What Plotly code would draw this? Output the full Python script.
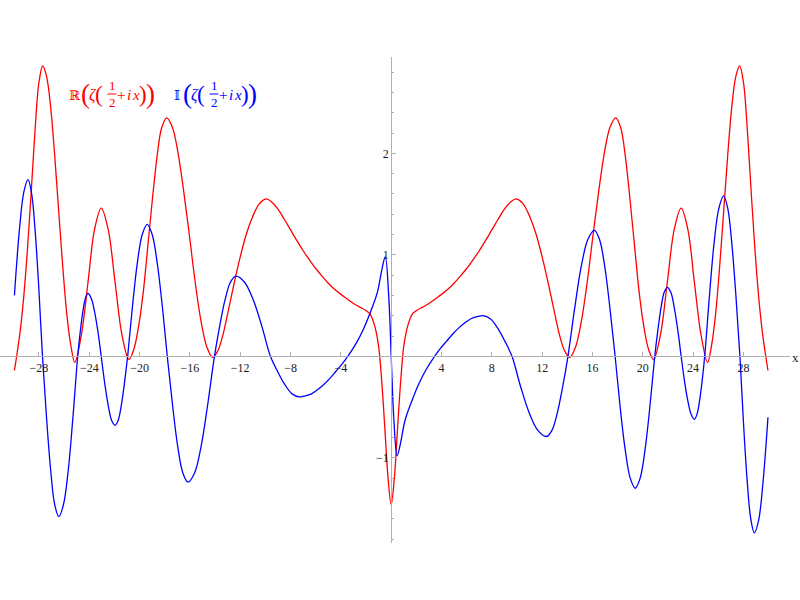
import plotly.graph_objects as go

# ---- data ----
x_re = [-29.95,-29.75,-29.5,-29.2,-28.9,-28.6,-28.3,-28.0,-27.7,-27.4,
        -27.06,-26.75,-26.43,-26.1,-25.79,-25.47,-25.15,-24.63,-24.1,-23.58,
        -23.05,-22.5,-21.95,-21.4,-20.85,-20.48,-20.1,-19.72,-19.35,-18.98,
        -18.6,-18.25,-17.85,-17.4,-16.94,-16.49,-16.03,-15.57,-15.11,-14.65,
        -14.2,-13.8,-13.4,-13.0,-12.5,-12.0,-11.5,-11.0,-10.5,-9.95,
        -9.5,-9.0,-8.5,-8.0,-7.5,-7.0,-6.5,-6.0,-5.5,-5.0,
        -4.5,-4.0,-3.5,-3.0,-2.5,-2.0,-1.7,-1.5,-1.25,-1.0,
        -0.75,-0.5,-0.25,
        0.0,
        0.25,0.5,0.75,1.0,1.25,1.5,1.7,2.0,2.5,3.0,
        3.5,4.0,4.5,5.0,5.5,6.0,6.5,7.0,7.5,8.0,
        8.5,9.0,9.5,9.95,10.5,11.0,11.5,12.0,12.5,13.0,
        13.4,13.8,14.2,14.65,15.11,15.57,16.03,16.49,16.94,17.4,
        17.85,18.25,18.6,18.98,19.35,19.72,20.1,20.48,20.85,21.4,
        21.95,22.5,23.05,23.58,24.1,24.63,25.15,25.47,25.79,26.1,
        26.43,26.75,27.06,27.4,27.7,28.0,28.3,28.6,28.9,29.2,
        29.5,29.75,29.95]
re_vals = [-0.14,0.02,0.24,0.6,1.08,1.65,2.25,2.7,2.86,2.76,
           2.44,1.98,1.43,0.87,0.42,0.11,-0.06,0.21,0.73,1.25,
           1.46,1.25,0.73,0.21,-0.03,0.06,0.28,0.62,1.08,1.55,
           1.98,2.25,2.35,2.26,2.0,1.62,1.18,0.72,0.34,0.09,
           -0.01,0.05,0.2,0.42,0.71,0.98,1.21,1.38,1.5,1.55,
           1.52,1.45,1.35,1.245,1.14,1.04,0.95,0.865,0.79,0.72,
           0.66,0.61,0.565,0.52,0.485,0.45,0.42,0.37,0.27,0.1,
           -0.25,-0.72,-1.2,
           -1.46,
           -1.2,-0.72,-0.25,0.1,0.27,0.37,0.42,0.45,0.485,0.52,
           0.565,0.61,0.66,0.72,0.79,0.865,0.95,1.04,1.14,1.245,
           1.35,1.45,1.52,1.55,1.5,1.38,1.21,0.98,0.71,0.42,
           0.2,0.05,-0.01,0.09,0.34,0.72,1.18,1.62,2.0,2.26,
           2.35,2.25,1.98,1.55,1.08,0.62,0.28,0.06,-0.03,0.21,
           0.73,1.25,1.46,1.25,0.73,0.21,-0.06,0.11,0.42,0.87,
           1.43,1.98,2.44,2.76,2.86,2.7,2.25,1.65,1.08,0.6,
           0.24,0.02,-0.14]

x_im = [-29.95,-29.55,-29.2,-28.87,-28.58,-28.3,-28.01,-27.72,-27.4,-27.07,
        -26.75,-26.42,-26.05,-25.67,-25.3,-24.92,-24.72,-24.51,-24.31,-24.1,
        -23.84,-23.58,-23.31,-23.05,-22.78,-22.5,-22.23,-21.95,-21.7,-21.45,
        -21.2,-20.95,-20.56,-20.18,-19.79,-19.4,-19.0,-18.6,-18.2,-17.8,
        -17.39,-16.98,-16.56,-16.15,-15.63,-15.1,-14.58,-14.05,-13.63,-13.2,
        -12.78,-12.35,-11.66,-10.98,-10.29,-9.6,-9.03,-8.45,-7.88,-7.3,
        -6.82,-6.34,-5.86,-5.38,-4.89,-4.41,-3.93,-3.45,-2.8,-2.2,
        -1.67,-1.1,-0.75,-0.47,-0.2,
        0.0,
        0.2,0.47,0.75,1.1,1.67,2.2,2.8,3.45,3.93,4.41,
        4.89,5.38,5.86,6.34,6.82,7.3,7.88,8.45,9.03,9.6,
        10.29,10.98,11.66,12.35,12.78,13.2,13.63,14.05,14.58,15.1,
        15.63,16.15,16.56,16.98,17.39,17.8,18.2,18.6,19.0,19.4,
        19.79,20.18,20.56,20.95,21.2,21.45,21.7,21.95,22.23,22.5,
        22.78,23.05,23.31,23.58,23.84,24.1,24.31,24.51,24.72,24.92,
        25.3,25.67,26.05,26.42,26.75,27.07,27.4,27.72,28.01,28.3,
        28.58,28.87,29.2,29.55,29.95]
im_vals = [0.6,1.25,1.62,1.74,1.6,1.23,0.67,0.0,-0.6,-1.12,
           -1.46,-1.58,-1.46,-1.12,-0.6,0.0,0.24,0.44,0.57,0.62,
           0.57,0.44,0.24,0.0,-0.26,-0.48,-0.63,-0.68,-0.63,-0.48,
           -0.26,0.0,0.5,0.92,1.2,1.3,1.2,0.92,0.5,0.0,
           -0.47,-0.88,-1.15,-1.24,-1.15,-0.88,-0.47,0.0,0.3,0.56,
           0.73,0.79,0.73,0.56,0.3,0.0,-0.15,-0.28,-0.37,-0.4,
           -0.39,-0.37,-0.33,-0.28,-0.22,-0.15,-0.08,0.0,0.125,0.27,
           0.43,0.63,0.85,0.98,0.6,
           0.0,
           -0.6,-0.98,-0.85,-0.63,-0.43,-0.27,-0.125,0.0,0.08,0.15,
           0.22,0.28,0.33,0.37,0.39,0.4,0.37,0.28,0.15,0.0,
           -0.3,-0.56,-0.73,-0.79,-0.73,-0.56,-0.3,0.0,0.47,0.88,
           1.15,1.24,1.15,0.88,0.47,0.0,-0.5,-0.92,-1.2,-1.3,
           -1.2,-0.92,-0.5,0.0,0.26,0.48,0.63,0.68,0.63,0.48,
           0.26,0.0,-0.24,-0.44,-0.57,-0.62,-0.57,-0.44,-0.24,0.0,
           0.6,1.12,1.46,1.58,1.46,1.12,0.6,0.0,-0.67,-1.23,
           -1.6,-1.74,-1.62,-1.25,-0.6]

x_ticks = [-28,-24,-20,-16,-12,-8,-4,4,8,12,16,20,24,28]
y_ticks = [-1,1,2]
y_minor = [-1.8,-1.6,-1.4,-1.2,-0.8,-0.6,-0.4,-0.2,0.2,0.4,0.6,0.8,
           1.2,1.4,1.6,1.8,2.2,2.4,2.6,2.8]

W, H = 800, 600
SERIF = "Liberation Serif, DejaVu Serif, serif"
AXC = "#b0b0b0"

fig = go.Figure()
fig.add_trace(go.Scatter(x=x_re, y=re_vals, mode="lines",
                         line=dict(color="#ff0000", width=1.3, shape="spline", smoothing=1.0),
                         showlegend=False, hoverinfo="skip"))
fig.add_trace(go.Scatter(x=x_im, y=im_vals, mode="lines",
                         line=dict(color="#0000ff", width=1.3, shape="spline", smoothing=1.0),
                         showlegend=False, hoverinfo="skip"))

x0px, xs = 391.2, 12.58
y0px, ys = 356.3, 101.5
xr_right_px = 790
ytop_px, ybot_px = 57, 543

fig.update_layout(
    width=W, height=H, autosize=False,
    margin=dict(l=0, r=0, t=0, b=0),
    paper_bgcolor="white", plot_bgcolor="white",
    xaxis=dict(domain=[0, xr_right_px / W],
               range=[-x0px / xs, (xr_right_px - x0px) / xs],
               anchor="free", position=(H - y0px) / H,
               showline=True, linecolor=AXC, linewidth=1,
               showgrid=False, zeroline=False,
               tickmode="array", tickvals=x_ticks,
               ticks="inside", ticklen=4, tickcolor=AXC, tickwidth=1,
               tickfont=dict(family=SERIF, size=12, color="#222222")),
    yaxis=dict(domain=[(H - ybot_px) / H, (H - ytop_px) / H],
               range=[-(ybot_px - y0px) / ys, (y0px - ytop_px) / ys],
               anchor="free", position=x0px / W,
               showline=True, linecolor=AXC, linewidth=1,
               showgrid=False, zeroline=False,
               tickmode="array", tickvals=y_ticks,
               ticks="inside", ticklen=4, tickcolor=AXC, tickwidth=1,
               tickfont=dict(family=SERIF, size=12, color="#222222"),
               minor=dict(tickmode="array", tickvals=y_minor, ticks="inside",
                          ticklen=2, tickcolor=AXC, tickwidth=1, showgrid=False)),
)

def txt(px, py, s, size, color, italic=False):
    fig.add_annotation(xref="paper", yref="paper", x=px / W, y=1 - py / H,
                       text=(f"<i>{s}</i>" if italic else s), showarrow=False,
                       xanchor="center", yanchor="middle",
                       font=dict(family=SERIF, size=size, color=color))

def fracline(x1, x2, py, color):
    fig.add_shape(type="line", xref="paper", yref="paper",
                  x0=x1 / W, x1=x2 / W, y0=1 - py / H, y1=1 - py / H,
                  line=dict(color=color, width=1))

# x axis label
txt(795, 357, "x", 13, "#222222")

# legend-like labels
def label(x0, head, color):
    cy = 95
    txt(x0 + 3.5, cy, head, 13, color)
    txt(x0 + 14.5, cy - 1, "(", 27, color)
    txt(x0 + 21.5, cy, "ζ", 16, color, italic=True)
    txt(x0 + 28, cy - 1, "(", 23, color)
    txt(x0 + 41, cy - 9, "1", 13, color)
    txt(x0 + 41, cy + 8, "2", 13, color)
    fracline(x0 + 36.5, x0 + 45.5, cy - 1, color)
    txt(x0 + 50, cy, "+", 15, color)
    txt(x0 + 57.5, cy, "i", 15, color, italic=True)
    txt(x0 + 65, cy, "x", 15, color, italic=True)
    txt(x0 + 72, cy - 1, ")", 23, color)
    txt(x0 + 79.5, cy - 1, ")", 27, color)

label(71, "ℝ", "#ff0000")
label(173, "𝕀", "#0000ff")

fig.write_html("out.html", config={"displayModeBar": False},
               post_script="document.body.style.margin='0px';document.body.style.overflow='hidden';")
